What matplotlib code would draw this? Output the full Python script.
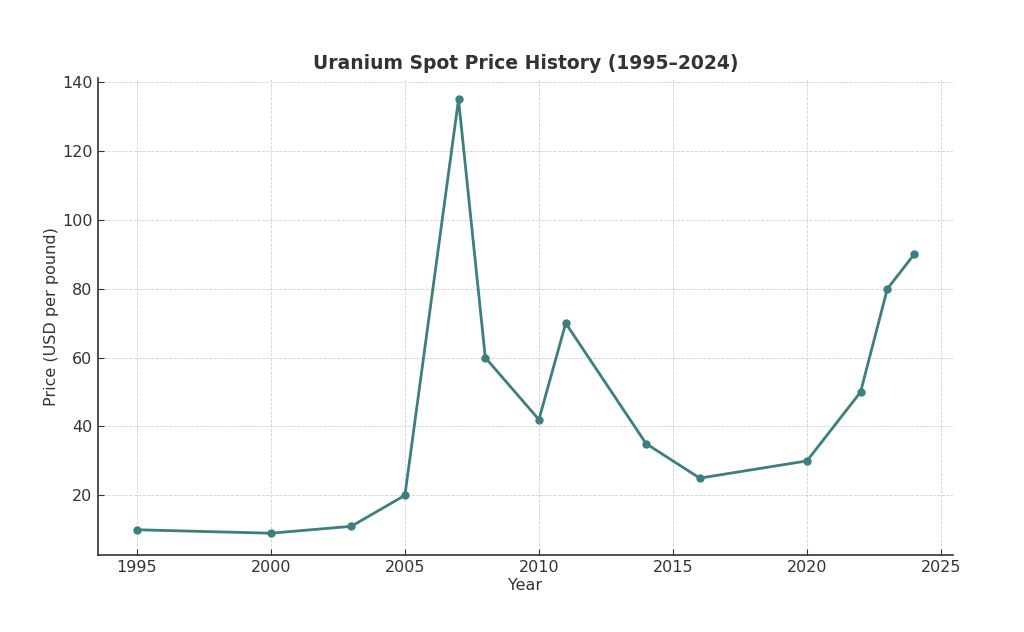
import matplotlib
matplotlib.use("Agg")
import matplotlib.pyplot as plt

years = [1995, 2000, 2003, 2005, 2007, 2008, 2010, 2011, 2014, 2016, 2020, 2022, 2023, 2024]
prices = [10, 9, 11, 20, 135, 60, 42, 70, 35, 25, 30, 50, 80, 90]

title = "Uranium Spot Price History (1995–2024)"
xlabel = "Year"
ylabel = "Price (USD per pound)"

plt.rcParams['font.family'] = ['DejaVu Sans']
text_color = "#333333"

fig = plt.figure(figsize=(10.24, 6.32), dpi=100)
ax = fig.add_axes([0.0957, 0.122, 0.835, 0.755])

ax.plot(years, prices, color="#3b7f7f", linewidth=2, marker="o", markersize=5)

ax.set_title(title, fontsize=13.5, fontweight="bold", color=text_color, pad=6)
ax.set_xlabel(xlabel, fontsize=11.5, color=text_color, labelpad=2)
ax.set_ylabel(ylabel, fontsize=11.5, color=text_color, labelpad=2)
ax.tick_params(labelsize=11.5, colors=text_color, direction="in", length=4, pad=4)
ax.set_yticks([20, 40, 60, 80, 100, 120, 140])
ax.set_xticks([1995, 2000, 2005, 2010, 2015, 2020, 2025])

ax.grid(True, linestyle="--", linewidth=0.6, color="#cccccc", alpha=0.9)
for s in ["top", "right"]:
    ax.spines[s].set_visible(False)
for s in ["left", "bottom"]:
    ax.spines[s].set_color(text_color)
    ax.spines[s].set_linewidth(1.2)

fig.savefig("out.png", dpi=100, facecolor="white")
